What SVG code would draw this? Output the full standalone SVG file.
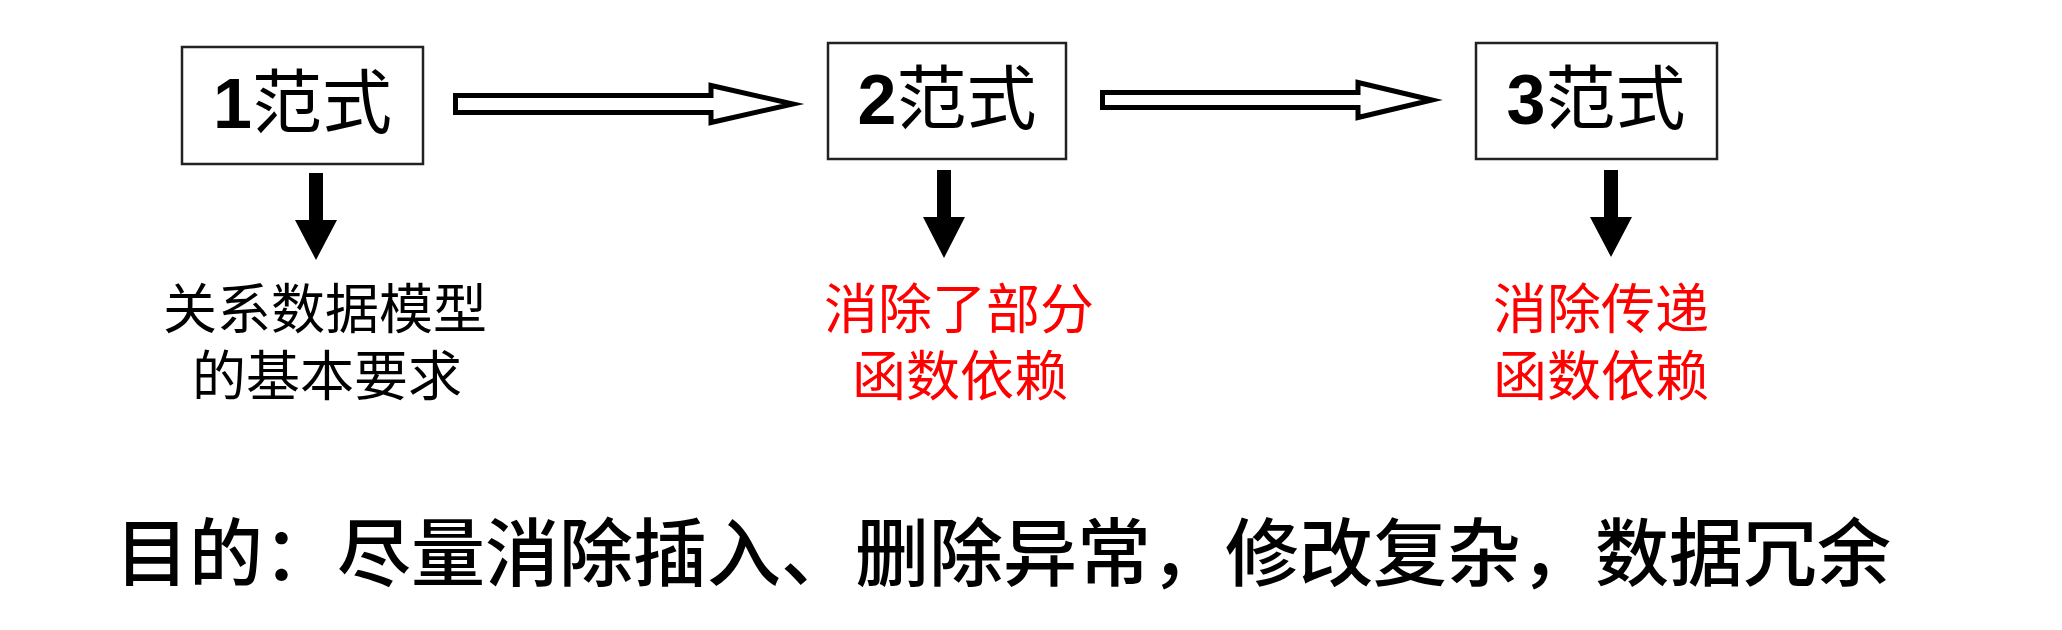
<svg xmlns="http://www.w3.org/2000/svg" width="2062" height="630" viewBox="0 0 2062 630">
<style>
.box{fill:#fff;stroke:#222;stroke-width:2.5}
.ttl{font-family:"Noto Sans CJK SC","Liberation Sans",sans-serif;font-size:70px;fill:#000;text-anchor:middle}
.num{font-family:"Liberation Sans",Arial,sans-serif;font-weight:bold}
.lbl{font-family:"Liberation Sans","Noto Sans CJK SC",sans-serif;font-size:54px;text-anchor:middle}
.blk{fill:#000}
.red{fill:#ff0000}
.hollow{fill:#fff;stroke:#000;stroke-width:5;stroke-linejoin:miter;stroke-miterlimit:10}
.solid{fill:#000;stroke:none}
.goal{font-family:"Noto Sans CJK SC",sans-serif;font-size:74px;font-weight:500;fill:#000;text-anchor:middle}
</style>
<rect width="2062" height="630" fill="#fff"/>
<g id="connectors">
<path class="hollow" d="M455.5,95.5 L711,95.5 L711,85.5 L793,104 L711,122.5 L711,112.5 L455.5,112.5 Z"/>
<path class="hollow" d="M1102.5,92.5 L1358,92.5 L1358,82.5 L1432,100 L1358,117.5 L1358,107.5 L1102.5,107.5 Z"/>
<polygon class="solid" points="309,173 323,173 323,220 337,220 316,260 295,220 309,220"/>
<polygon class="solid" points="937,170 951,170 951,217 965,217 944,258 923,217 937,217"/>
<polygon class="solid" points="1604,170 1618,170 1618,217 1632,217 1611,257 1590,217 1604,217"/>
</g>
<g id="nf1">
<rect class="box" x="182" y="47" width="241" height="117"/>
<text class="ttl" x="302.5" y="128"><tspan class="num">1</tspan>范式</text>
</g>
<g id="nf2">
<rect class="box" x="828" y="43" width="238" height="116"/>
<text class="ttl" x="947" y="124"><tspan class="num">2</tspan>范式</text>
</g>
<g id="nf3">
<rect class="box" x="1476" y="43" width="241" height="116"/>
<text class="ttl" x="1596" y="124"><tspan class="num">3</tspan>范式</text>
</g>
<g id="label1">
<text class="lbl blk" x="325" y="329">关系数据模型</text>
<text class="lbl blk" x="327" y="396">的基本要求</text>
</g>
<g id="label2">
<text class="lbl red" x="959" y="329">消除了部分</text>
<text class="lbl red" x="960" y="396">函数依赖</text>
</g>
<g id="label3">
<text class="lbl red" x="1601" y="329">消除传递</text>
<text class="lbl red" x="1601" y="396">函数依赖</text>
</g>
<g id="goal">
<text class="goal" x="1003" y="580">目的：尽量消除插入、删除异常，修改复杂，数据冗余</text>
</g>
</svg>
